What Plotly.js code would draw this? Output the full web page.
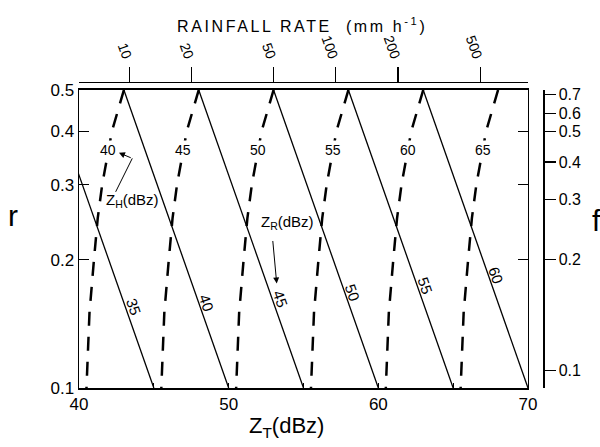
<!DOCTYPE html>
<html>
<head>
<meta charset="utf-8">
<script src="https://cdn.plot.ly/plotly-3.0.1.min.js"></script>
<style>
  html, body { margin: 0; padding: 0; background: #fff; }
  #chart { width: 600px; height: 447px; }
</style>
</head>
<body>
<div id="chart"></div>
<script>
// Z_T (dBz) against r, with rainfall-rate scale on top and f scale on the right.

// Solid lines: constant Z_R (dBz), straight from r = 0.1 to r = 0.5
const zrValues  = [35, 40, 45, 50, 55, 60];
const zrAtRLow  = [45, 50, 55, 60, 65, 70];   // Z_T at r = 0.1
const zrAtRHigh = [38, 43, 48, 53, 58, 63];   // Z_T at r = 0.5
const rEnds     = [0.1, 0.5];
const zrLabelR  = [0.155, 0.158, 0.162, 0.167, 0.174, 0.184];

// Dashed lines: constant Z_H (dBz)
const zhValues = [40, 45, 50, 55, 60, 65];
const rSamples = [0.1, 0.15, 0.2, 0.25, 0.3, 0.4, 0.5];
const zh40 = [40.5, 40.7, 41.0, 41.25, 41.55, 42.2, 43.0];
const zh45 = [45.5, 45.7, 46.0, 46.25, 46.55, 47.2, 48.0];
const zh50 = [50.5, 50.7, 51.0, 51.25, 51.55, 52.2, 53.0];
const zh55 = [55.5, 55.7, 56.0, 56.25, 56.55, 57.2, 58.0];
const zh60 = [60.5, 60.7, 61.0, 61.25, 61.55, 62.2, 63.0];
const zh65 = [65.5, 65.7, 66.0, 66.25, 66.55, 67.2, 68.0];
const zhLines = [zh40, zh45, zh50, zh55, zh60, zh65];
const zhLabelR = 0.361;

// Axis tick labels
const ztTicks = [40, 45, 50, 55, 60, 65, 70];
const ztTickText = ['40', '', '50', '', '60', '', '70'];
const rTicks = [0.1, 0.2, 0.3, 0.4, 0.5];
const rTickText = ['0.1', '0.2', '0.3', '0.4', '0.5'];
const rainTicks = [10, 20, 50, 100, 200, 500];
const fTickText = ['0.1', '0.2', '0.3', '0.4', '0.5', '0.6', '0.7'];
const fAtR = [0.110, 0.200, 0.277, 0.339, 0.399, 0.441, 0.487];

const FONT = 'Liberation Sans, Arial, Helvetica, sans-serif';
const log10 = Math.log10;

// Z_T on a line (zs over rs) at a given r, interpolating in log r
function zAt(rs, zs, r) {
  const lr = log10(r);
  for (let i = 0; i < rs.length - 1; i++) {
    const a = log10(rs[i]), b = log10(rs[i + 1]);
    if (lr >= a && lr <= b) return zs[i] + (zs[i + 1] - zs[i]) * (lr - a) / (b - a);
  }
  return zs[zs.length - 1];
}

const traces = [];
const annotations = [];

zrValues.forEach((v, i) => {
  const xs = [zrAtRLow[i], zrAtRHigh[i]];
  traces.push({
    x: xs, y: rEnds, mode: 'lines', hoverinfo: 'skip', showlegend: false,
    line: { color: '#000', width: 1.3 }
  });
  annotations.push({
    x: zAt(rEnds, xs, zrLabelR[i]), y: log10(zrLabelR[i]), xref: 'x', yref: 'y',
    xanchor: 'center', yanchor: 'middle',
    text: String(v), showarrow: false, textangle: 70.7, xshift: 8,
    font: { family: FONT, size: 15, color: '#000' }
  });
});

zhValues.forEach((v, i) => {
  const zs = zhLines[i];
  traces.push({
    x: zs.slice().reverse(), y: rSamples.slice().reverse(),
    mode: 'lines', hoverinfo: 'skip', showlegend: false,
    line: { color: '#000', width: 2.5, dash: '14px,11px' }
  });
  annotations.push({
    x: zAt(rSamples, zs, zhLabelR), y: log10(zhLabelR), xref: 'x', yref: 'y',
    xanchor: 'center', yanchor: 'middle',
    text: String(v), showarrow: false, bgcolor: '#fff', borderpad: 1,
    font: { family: FONT, size: 14, color: '#000' }
  });
});

// Bent pointer from the Z_H caption to the first dashed-line label
traces.push({
  x: [42.45, 43.56], y: [0.2885, 0.3456], mode: 'lines', hoverinfo: 'skip',
  showlegend: false, line: { color: '#000', width: 1 }
});
annotations.push({
  x: 42.67, y: log10(0.3562), ax: 43.56, ay: log10(0.3456), axref: 'x', ayref: 'y',
  xref: 'x', yref: 'y', text: '', showarrow: true, arrowhead: 2, arrowsize: 1.2,
  arrowwidth: 1, arrowcolor: '#000'
});
annotations.push({
  x: 43.6, y: log10(0.276), xref: 'x', yref: 'y', showarrow: false,
  xanchor: 'center', yanchor: 'middle',
  text: 'Z<sub>H</sub>(dBz)', font: { family: FONT, size: 15, color: '#000' }
});

// Z_R caption with arrow
annotations.push({
  x: 53.9, y: log10(0.245), xref: 'x', yref: 'y', showarrow: false,
  xanchor: 'center', yanchor: 'middle',
  text: 'Z<sub>R</sub>(dBz)', font: { family: FONT, size: 15, color: '#000' }
});
annotations.push({
  x: 53.21, y: log10(0.1758), ax: 52.94, ay: log10(0.2230), axref: 'x', ayref: 'y',
  xref: 'x', yref: 'y', text: '', showarrow: true, arrowhead: 2, arrowsize: 1.2,
  arrowwidth: 1, arrowcolor: '#000'
});

// Axis captions
annotations.push({
  x: -0.1416, y: 0.565, xref: 'paper', yref: 'paper', showarrow: false,
  xanchor: 'center', yanchor: 'middle',
  text: 'r', font: { family: FONT, size: 30, color: '#000' }
});
annotations.push({
  x: 1.1157, y: 0.549, xref: 'paper', yref: 'paper', showarrow: false,
  xanchor: 'center', yanchor: 'middle',
  text: 'f', font: { family: FONT, size: 30, color: '#000' }
});
annotations.push({
  x: 0.4476, y: -0.128, xref: 'paper', yref: 'paper', showarrow: false,
  xanchor: 'center', yanchor: 'middle',
  text: 'Z<sub>T</sub>(dBz)', font: { family: FONT, size: 22, color: '#000' }
});
annotations.push({
  x: 0.48, y: 1.186, xref: 'paper', yref: 'paper', showarrow: false,
  xanchor: 'center', yanchor: 'middle',
  text: 'RAINFALL RATE\u00a0\u00a0(mm h<sup>-1</sup>)', font: { family: FONT, size: 16, color: '#000' }
});

// Carrier traces for the secondary axes
traces.push({ x: [], y: [], xaxis: 'x2', yaxis: 'y', hoverinfo: 'skip', showlegend: false });
traces.push({ x: [], y: [], xaxis: 'x', yaxis: 'y2', hoverinfo: 'skip', showlegend: false });

const rRange = [log10(0.1), log10(0.5)];

const layout = {
  width: 600, height: 447,
  margin: { l: 79, r: 57, t: 82, b: 59 },
  paper_bgcolor: '#fff', plot_bgcolor: '#fff',
  showlegend: false,
  font: { family: FONT, color: '#000' },
  xaxis: {
    domain: [0, 0.96767], range: [40, 70], anchor: 'y',
    tickvals: ztTicks, ticktext: ztTickText,
    ticks: 'inside', ticklen: 5, tickwidth: 1.2, tickcolor: '#000',
    showline: true, linecolor: '#000', linewidth: 1.5, mirror: true,
    showgrid: false, zeroline: false,
    tickfont: { family: FONT, size: 17, color: '#000' }
  },
  yaxis: {
    domain: [0, 0.97386], type: 'log', range: rRange, anchor: 'x',
    tickvals: rTicks, ticktext: rTickText,
    ticks: 'inside', ticklen: 10, tickwidth: 1.2, tickcolor: '#000',
    showline: true, linecolor: '#000', linewidth: 1.5, mirror: 'ticks',
    showgrid: false, zeroline: false,
    tickfont: { family: FONT, size: 17, color: '#000' }
  },
  xaxis2: {
    overlaying: 'x', side: 'top', anchor: 'free', position: 1,
    domain: [0, 0.96767], type: 'log', range: [0.756, 2.931],
    tickvals: rainTicks, ticktext: rainTicks.map(String), tickangle: 70,
    ticks: 'outside', ticklen: 15, tickwidth: 1.2, tickcolor: '#000',
    ticklabelstandoff: -3,
    showline: true, linecolor: '#000', linewidth: 1.2,
    showgrid: false, zeroline: false,
    tickfont: { family: FONT, size: 14, color: '#000' }
  },
  yaxis2: {
    overlaying: 'y', side: 'right', anchor: 'free', position: 1,
    type: 'log', range: rRange,
    tickvals: fAtR, ticktext: fTickText,
    ticks: 'outside', ticklen: 11, tickwidth: 1.2, tickcolor: '#000',
    showline: true, linecolor: '#000', linewidth: 1.5,
    showgrid: false, zeroline: false,
    tickfont: { family: FONT, size: 16, color: '#000' }
  },
  annotations: annotations
};

Plotly.newPlot('chart', traces, layout, { staticPlot: true }).then(() => {
  // widen the letter spacing of the rainfall-rate caption
  document.querySelectorAll('.annotation-text').forEach(t => {
    if (t.textContent.indexOf('RAINFALL') === 0) t.setAttribute('letter-spacing', '2.6px');
  });
});
</script>
</body>
</html>
